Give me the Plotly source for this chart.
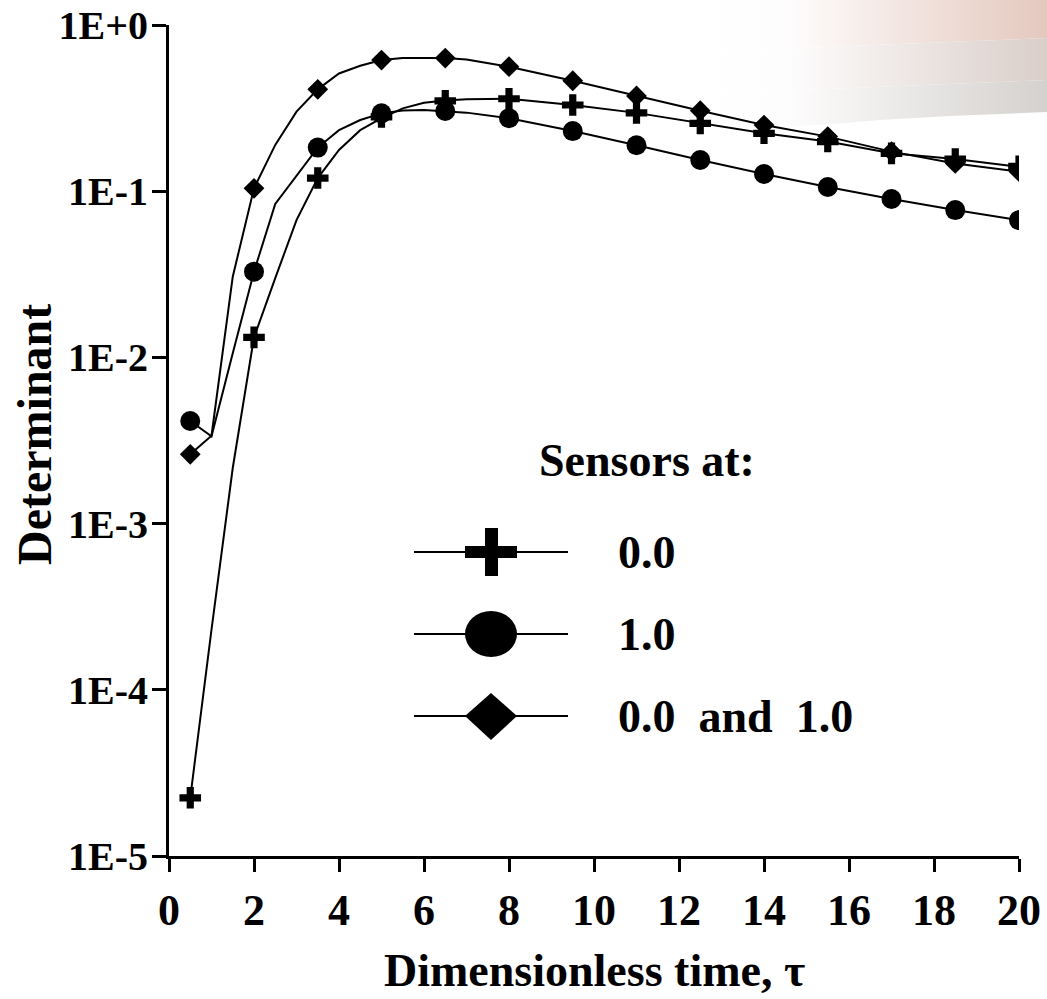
import plotly.graph_objects as go

W, H = 1047, 999
FONT = "Liberation Serif, Times New Roman, serif"

# ---------------- data ----------------
marker_t = [0.5, 2, 3.5, 5, 6.5, 8, 9.5, 11, 12.5, 14, 15.5, 17, 18.5, 20]
cross_pts = [2.24e-5, 0.0132, 0.12, 0.28, 0.35, 0.36, 0.33, 0.296, 0.256, 0.223, 0.199, 0.169, 0.156, 0.141]
circle_pts = [4.14e-3, 0.0328, 0.183, 0.294, 0.304, 0.275, 0.23, 0.189, 0.154, 0.127, 0.106, 0.0897, 0.077, 0.067]
diamond_pts = [2.61e-3, 0.104, 0.41, 0.615, 0.632, 0.561, 0.462, 0.374, 0.305, 0.25, 0.213, 0.173, 0.147, 0.131]

curve_t = [0.5, 1.0, 1.5, 2.0, 2.5, 3.0, 3.5, 4.0, 4.5, 5.0, 5.5, 6.0, 6.5, 7.0,
           8.0, 9.5, 11, 12.5, 14, 15.5, 17, 18.5, 20]
cross_curve = [2.24e-5, 2.3e-4, 2.16e-3, 0.0132, 0.030, 0.067, 0.12, 0.177, 0.233, 0.275, 0.315, 0.341, 0.351, 0.357,
               0.36, 0.33, 0.296, 0.256, 0.223, 0.199, 0.169, 0.156, 0.14]
circle_curve = [4.14e-3, 3.35e-3, 0.0106, 0.0328, 0.0838, 0.124, 0.183, 0.233, 0.268, 0.294, 0.306, 0.308, 0.304, 0.297,
                0.275, 0.23, 0.189, 0.154, 0.127, 0.106, 0.0897, 0.077, 0.067]
diamond_curve = [2.61e-3, 3.38e-3, 0.0306, 0.104, 0.19, 0.301, 0.41, 0.511, 0.569, 0.615, 0.634, 0.636, 0.632, 0.62,
                 0.561, 0.462, 0.374, 0.305, 0.25, 0.213, 0.173, 0.147, 0.131]

x_ticks = [0, 2, 4, 6, 8, 10, 12, 14, 16, 18, 20]
y_ticks = [1e-5, 1e-4, 1e-3, 1e-2, 1e-1, 1]
y_tick_text = ["1E-5", "1E-4", "1E-3", "1E-2", "1E-1", "1E+0"]

legend_title = "Sensors at:"
legend_labels = ["0.0", "1.0", "0.0\u00a0\u00a0and\u00a0\u00a01.0"]

# ---------------- layout helpers ----------------
def px(x):
    return x / W

def py(y):
    return 1 - y / H

PLOT_L, PLOT_R, PLOT_T, PLOT_B = 169, 1019, 25, 856

fig = go.Figure()

# decorative swoosh (full-page helper subplot, drawn first / below)
bands = [
    ([(700, 0), (1047, 0), (1047, 38), (950, 42), (850, 46), (760, 50), (700, 52)], "rgb(228,200,190)"),
    ([(700, 52), (760, 50), (850, 46), (950, 42), (1047, 38), (1047, 80), (950, 84), (850, 88), (760, 92), (700, 94)], "rgb(218,206,201)"),
    ([(700, 94), (760, 92), (850, 88), (950, 84), (1047, 80), (1047, 112), (950, 116), (880, 120), (833, 124), (780, 127), (700, 129)], "rgb(212,209,206)"),
]
for pts, col in bands:
    fig.add_trace(go.Scatter(
        x=[p[0] for p in pts] + [pts[0][0]], y=[p[1] for p in pts] + [pts[0][1]],
        mode="lines", fill="toself", line=dict(width=0),
        fillgradient=dict(type="horizontal",
                          colorscale=[[0, "rgb(255,255,255)"], [0.25, "rgb(254,253,253)"], [1, col]]),
        xaxis="x", yaxis="y", showlegend=False, hoverinfo="skip"))

# data curves
for yc in (cross_curve, circle_curve, diamond_curve):
    fig.add_trace(go.Scatter(x=curve_t, y=yc, mode="lines",
                             line=dict(color="black", width=2),
                             xaxis="x2", yaxis="y2", showlegend=False))

# data markers
for yv, sym, size in ((cross_pts, "cross", 18), (circle_pts, "circle", 20), (diamond_pts, "diamond", 16)):
    fig.add_trace(go.Scatter(x=marker_t, y=yv, mode="markers",
                             marker=dict(symbol=sym, size=size, color="black", line=dict(width=0)),
                             xaxis="x2", yaxis="y2", showlegend=False))

# invisible helper trace so the label-only y axis is drawn
fig.add_trace(go.Scatter(x=[marker_t[0]], y=[diamond_pts[0]], mode="markers", opacity=0,
                         xaxis="x2", yaxis="y3", showlegend=False, hoverinfo="skip"))

tickfont_x = dict(family=FONT, size=44, color="black", weight="bold")
tickfont_y = dict(family=FONT, size=40, color="black", weight="bold")

fig.update_layout(
    width=W, height=H,
    margin=dict(l=0, r=0, t=0, b=0, pad=0, autoexpand=False),
    paper_bgcolor="white", plot_bgcolor="rgba(0,0,0,0)",
    showlegend=False,
    xaxis=dict(domain=[0, 1], range=[0, W], visible=False, fixedrange=True, automargin=False),
    yaxis=dict(domain=[0, 1], range=[H, 0], visible=False, fixedrange=True, automargin=False),
    xaxis2=dict(domain=[px(PLOT_L), px(PLOT_R)], anchor="y2", range=[0, 20], automargin=False,
                tickvals=x_ticks, ticks="outside", ticklen=13, tickwidth=3, tickcolor="black",
                showline=True, linewidth=3, linecolor="black", showgrid=False, zeroline=False,
                tickfont=tickfont_x, ticklabelstandoff=0),
    yaxis2=dict(domain=[py(PLOT_B), py(PLOT_T)], anchor="x2", type="log", range=[-5, 0], automargin=False,
                tickvals=y_ticks, ticks="outside", ticklen=14, tickwidth=3,
                tickcolor="black", showline=True, linewidth=3, linecolor="black",
                showgrid=False, zeroline=False, showticklabels=False),
    yaxis3=dict(overlaying="y2", anchor="x2", side="left", type="log", range=[-5, 0], automargin=False,
                tickvals=y_ticks, ticktext=y_tick_text, ticks="outside", ticklen=12, tickwidth=1,
                tickcolor="rgba(0,0,0,0)", showline=False, showgrid=False, zeroline=False,
                tickfont=tickfont_y, ticklabelstandoff=0),
)

# axis titles
fig.add_annotation(text="Dimensionless time, \u03c4", xref="paper", yref="paper",
                   x=px(594), y=py(970), xanchor="center", yanchor="middle", showarrow=False,
                   font=dict(family=FONT, size=46, color="black", weight="bold"))
fig.add_annotation(text="Determinant", xref="paper", yref="paper", textangle=-90,
                   x=px(34), y=py(435), xanchor="center", yanchor="middle", showarrow=False,
                   font=dict(family=FONT, size=48, color="black", weight="bold"))

# custom legend
LEG_FONT = dict(family=FONT, size=46, color="black", weight="bold")
fig.add_annotation(text=legend_title, xref="paper", yref="paper", x=px(537), y=py(460),
                   xanchor="left", yanchor="middle", showarrow=False, font=LEG_FONT)
row_y = [552, 634, 716]
for yy, lab in zip(row_y, legend_labels):
    fig.add_annotation(text=lab, xref="paper", yref="paper", x=px(616), y=py(yy),
                       xanchor="left", yanchor="middle", showarrow=False, font=LEG_FONT)
    fig.add_shape(type="line", xref="paper", yref="paper", x0=px(414), x1=px(568), y0=py(yy), y1=py(yy),
                  line=dict(color="black", width=2))

# legend glyphs
fig.add_shape(type="rect", xref="paper", yref="paper", x0=px(465), x1=px(517), y0=py(558), y1=py(546),
              fillcolor="black", line=dict(width=0))
fig.add_shape(type="rect", xref="paper", yref="paper", x0=px(485), x1=px(498), y0=py(576), y1=py(528),
              fillcolor="black", line=dict(width=0))
fig.add_shape(type="circle", xref="paper", yref="paper", x0=px(465), x1=px(517), y0=py(657), y1=py(611),
              fillcolor="black", line=dict(width=0))
fig.add_shape(type="path", xref="paper", yref="paper",
              path=f"M {px(465)},{py(716)} L {px(491)},{py(693)} L {px(517)},{py(716)} L {px(491)},{py(740)} Z",
              fillcolor="black", line=dict(width=0))

fig.write_html("out.html")
